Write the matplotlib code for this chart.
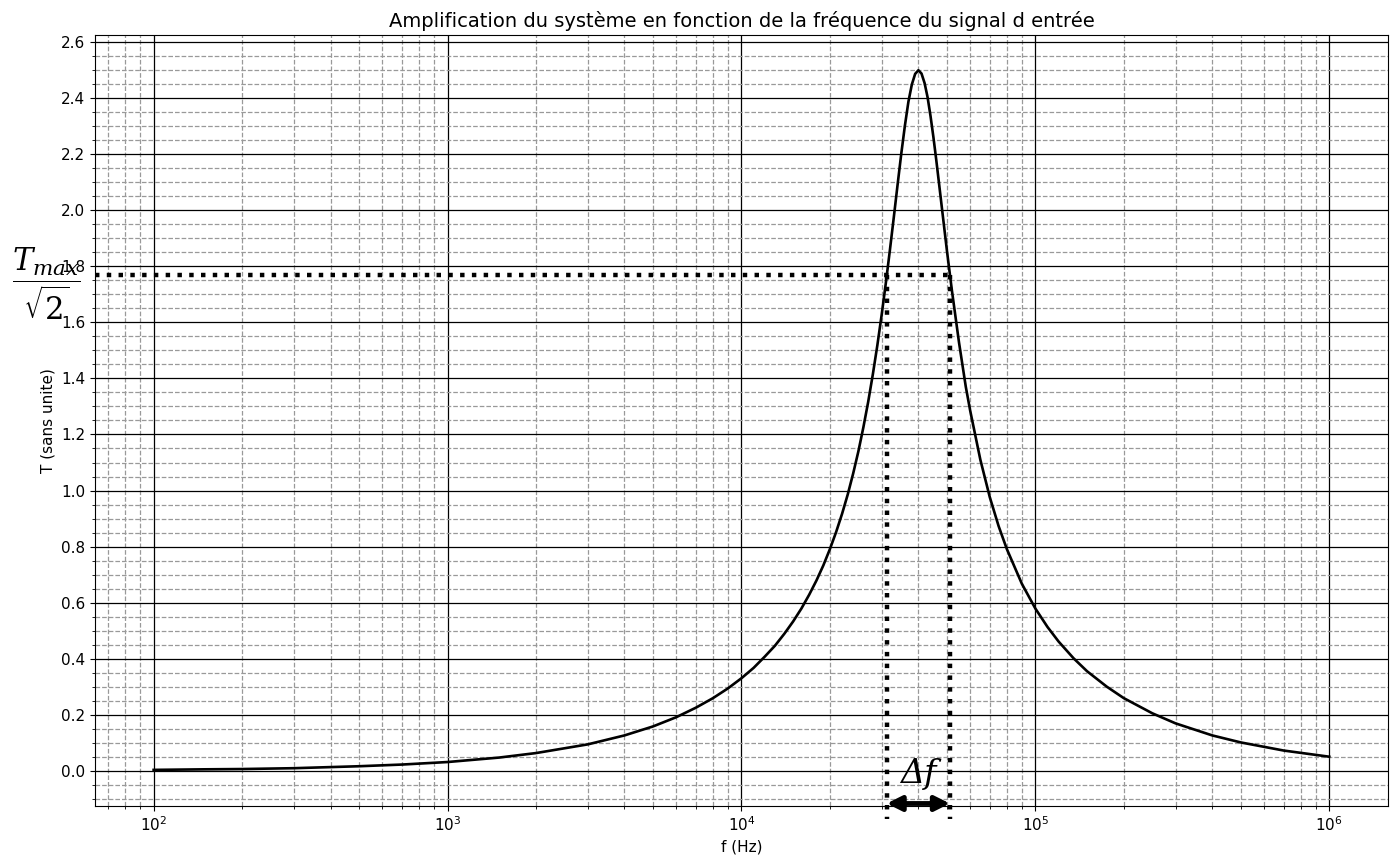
import numpy as np
import matplotlib
matplotlib.use("Agg")
import matplotlib.pyplot as plt
from matplotlib.ticker import MultipleLocator

plt.rcParams["mathtext.fontset"] = "dejavuserif"

# Points (f in Hz, T without unit)
freq = [100, 150, 200, 300, 500, 700, 1000, 1500, 2000, 3000, 4000, 5000, 6000, 7000, 8000,
        9000, 10000, 11000, 12000, 13000, 14000, 15000, 16000, 17000, 18000, 19000, 20000,
        21000, 22000, 23000, 24000, 25000, 26000, 27000, 28000, 29000, 30000, 31000, 32000,
        33000, 34000, 35000, 36000, 37000, 38000, 39000, 40000, 41000, 42000, 43000, 44000,
        45000, 46000, 47000, 48000, 50000, 52000, 55000, 58000, 60000, 65000, 70000, 75000,
        80000, 90000, 100000, 110000, 120000, 135000, 150000, 175000, 200000, 250000, 300000,
        400000, 500000, 700000, 1000000]
gain = [0.003, 0.005, 0.006, 0.009, 0.016, 0.022, 0.031, 0.047, 0.063, 0.094, 0.126, 0.158,
        0.191, 0.225, 0.259, 0.294, 0.330, 0.367, 0.407, 0.446, 0.489, 0.533, 0.579, 0.628,
        0.679, 0.733, 0.791, 0.852, 0.917, 0.986, 1.061, 1.140, 1.226, 1.317, 1.415, 1.518,
        1.627, 1.741, 1.858, 1.976, 2.093, 2.204, 2.303, 2.388, 2.449, 2.487, 2.500, 2.488,
        2.454, 2.403, 2.336, 2.261, 2.181, 2.098, 2.016, 1.858, 1.715, 1.528, 1.370, 1.286,
        1.110, 0.976, 0.873, 0.791, 0.667, 0.579, 0.513, 0.461, 0.401, 0.355, 0.300, 0.259,
        0.205, 0.169, 0.126, 0.101, 0.072, 0.050]

t_max = 2.5
f_low = 31200
f_high = 51200

fig, ax = plt.subplots(figsize=(13.95, 8.59), dpi=100)
fig.subplots_adjust(left=0.068, right=0.995, top=0.959, bottom=0.062)

ax.plot(freq, gain, color="black", linewidth=1.9)
ax.set_xscale("log")
ax.set_xlim(63.1, 1.585e6)
ax.set_ylim(-0.125, 2.625)
ax.yaxis.set_major_locator(MultipleLocator(0.2))
ax.yaxis.set_minor_locator(MultipleLocator(0.05))

ax.grid(which="major", color="black", linestyle="-", linewidth=0.9)
ax.grid(which="minor", color="#999999", linestyle="--", linewidth=0.9)

# cut-off marks
level = t_max / np.sqrt(2)
ax.plot([63.1, f_high], [level, level], color="black", linestyle=":", linewidth=3.2)
ax.plot([f_low, f_low], [level, -0.172], color="black", linestyle=":", linewidth=3.2, clip_on=False)
ax.plot([f_high, f_high], [level, -0.172], color="black", linestyle=":", linewidth=3.2, clip_on=False)

ax.annotate("", xy=(f_low, -0.117), xytext=(f_high, -0.117),
            arrowprops=dict(arrowstyle="<|-|>", color="black", lw=3.5, mutation_scale=22,
                            shrinkA=0, shrinkB=0), annotation_clip=False)
ax.text(np.sqrt(f_low * f_high), -0.01, "Δf", fontsize=24, family="DejaVu Serif",
        style="italic", ha="center", va="center")
ax.text(43, level - 0.03, r"$\dfrac{T_{max}}{\sqrt{2}}$", fontsize=22, ha="center", va="center")

ax.set_title("Amplification du système en fonction de la fréquence du signal d entrée", fontsize=14)
ax.set_xlabel("f (Hz)", fontsize=11)
ax.set_ylabel("T (sans unite)", fontsize=11)
ax.tick_params(labelsize=11)

fig.savefig("out.png", dpi=100)
